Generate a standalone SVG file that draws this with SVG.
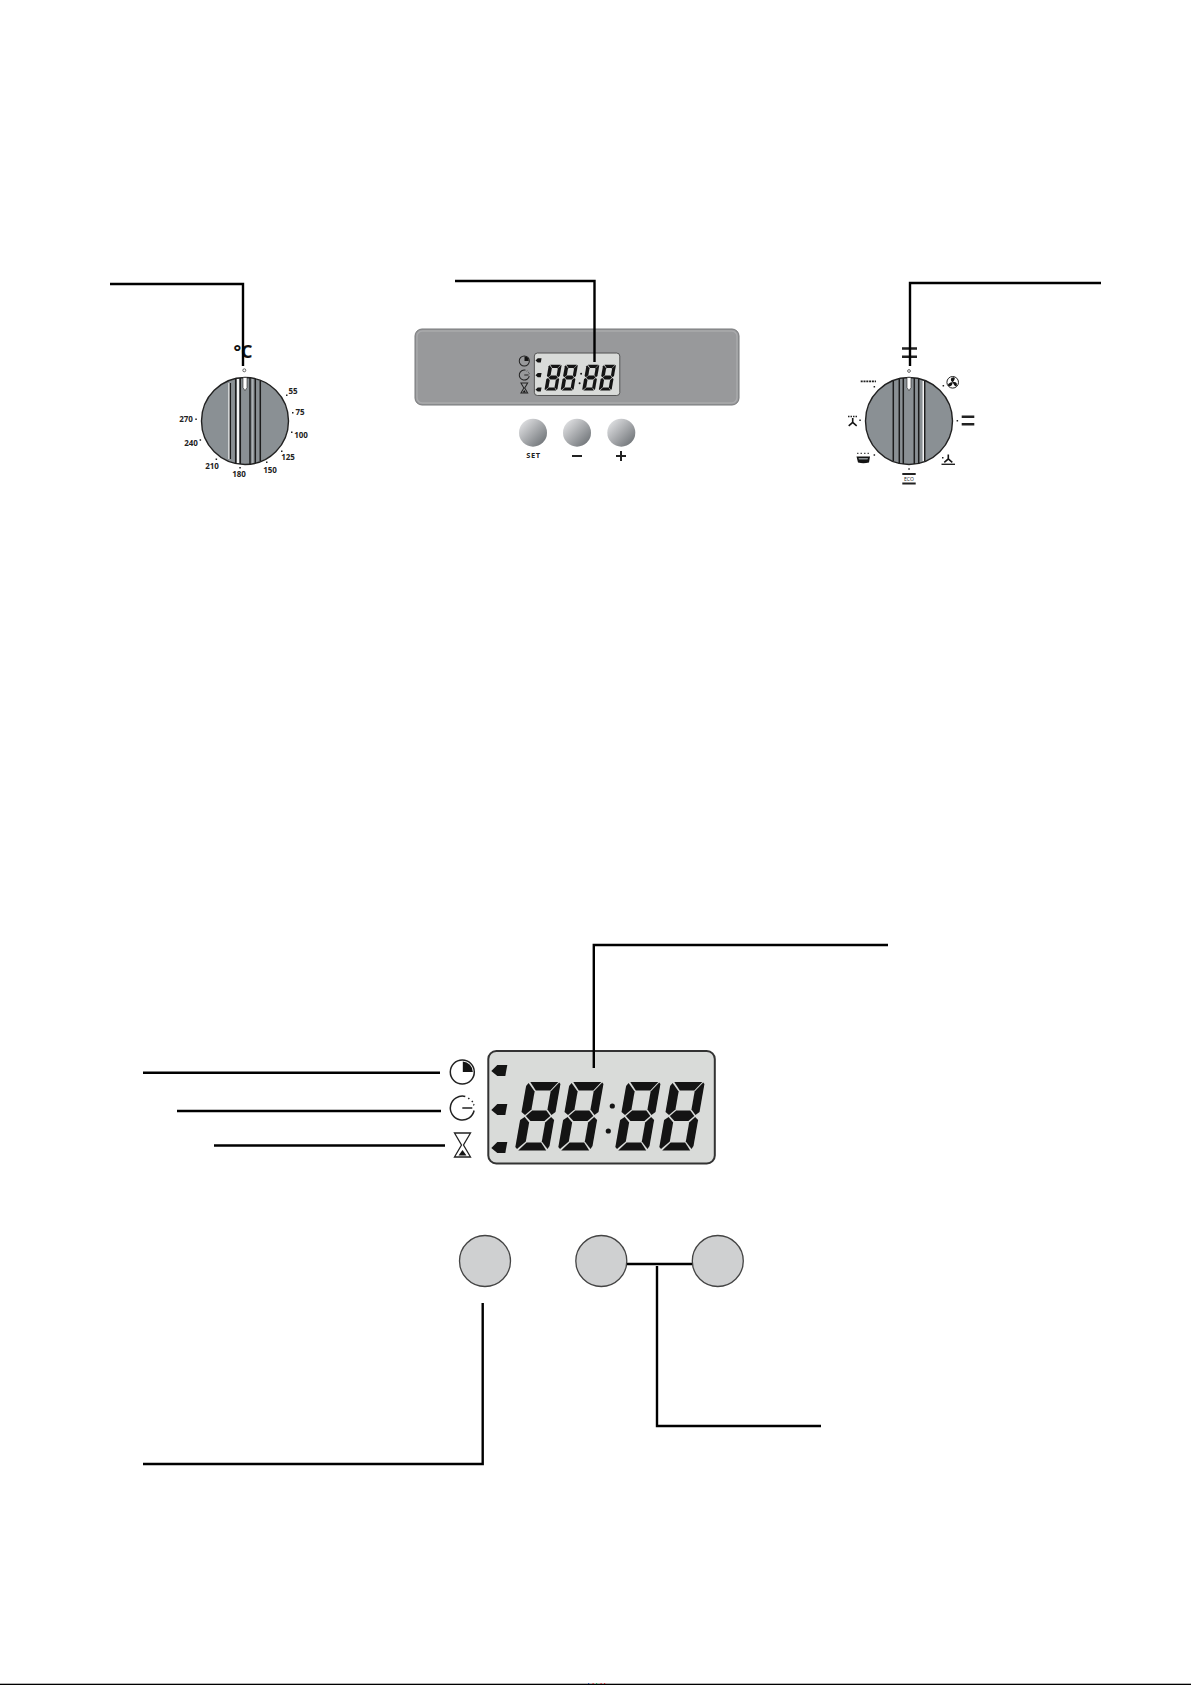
<svg xmlns="http://www.w3.org/2000/svg" width="1191" height="1685" viewBox="0 0 1191 1685">
<style>
.ln{fill:none;stroke:#000;stroke-width:2.4}
.t{font-family:"Open Sans","DejaVu Sans",sans-serif;font-weight:700;font-size:8px;fill:#222;text-anchor:middle}
.dot{fill:#222}
.knob{fill:#8a9094;stroke:#222;stroke-width:1.4}
.w{stroke:#fff;stroke-width:1.8;fill:none}
.d{stroke:#1c1c1c;stroke-width:1.5;fill:none}
.bar{stroke:#222;stroke-width:2.400;fill:none}
.thin{stroke:#222;stroke-width:1;fill:none}
.seg{fill:#141414}
.ic{fill:none;stroke:#222}
.bb{fill:#cfd0d1;stroke:#444;stroke-width:1.3}
</style>
<defs>
<linearGradient id="btn" x1="0.1" y1="0.1" x2="0.9" y2="0.9"><stop offset="0" stop-color="#dfe0e2"/><stop offset="1" stop-color="#707478"/></linearGradient>
<g id="digit" transform="skewX(-10)">
<path class="seg" d="M3 0H31L24.500 8.500H10Z"/>
<path class="seg" d="M1.500 1L9 9.500V27.500L3.500 33L-.500 30V4Z"/>
<path class="seg" d="M33.500 2V30L30 33L25 27.500V9.500L32 .500Z"/>
<path class="seg" d="M4.500 34L10 28.500H24L29 34L24 39H10Z"/>
<path class="seg" d="M3.500 35L9 40.500V59.500L1.500 67L-.500 65V38Z"/>
<path class="seg" d="M30 35L33.500 38V64L32 67L25 59.500V40.500Z"/>
<path class="seg" d="M10 60.500H24.500L31 68.500H3Z"/>
</g>
<g id="lcd">
<rect x="1" y="1" width="226.500" height="112.500" rx="8" fill="#d9dbd9" stroke="#333" stroke-width="2"/>
<path class="seg" d="M4 21L10 15H20L18 26H10Z"/>
<path class="seg" d="M4 60L10 54H20L18 65H10Z"/>
<path class="seg" d="M4 98L10 92H20L18 103H10Z"/>
<use href="#digit" x="40" y="32"/>
<use href="#digit" x="83" y="32"/>
<use href="#digit" x="140" y="32"/>
<use href="#digit" x="184" y="32"/>
<circle cx="125" cy="56" r="2.600" class="seg"/>
<circle cx="121" cy="81" r="2.600" class="seg"/>
</g>
<g id="timer">
<circle class="ic" r="12"/>
<path class="seg" d="M0.500 -10.500A10.500 10.500 0 0 1 10.500 0H0.500Z"/>
</g>
<g id="cook">
<path class="ic" d="M3 -11.600A12 12 0 1 0 11.800 2.500"/>
<path class="ic" d="M0 0H10"/>
<path class="ic" d="M6 -10l1 1M9.500 -7l1 1M11 -3.500l1 .500"/>
</g>
<g id="glass">
<path class="ic" d="M-8 -12H8L1 0L8 12H-8L-1 0Z"/>
<path class="seg" d="M-4 10.500L0 5L4 10.500Z"/>
</g>
<g id="fan"><path class="seg" d="M-.800 -4.500H.800V-.500L4.500 2.800L3.500 4L0 1L-3.500 4L-4.500 2.800L-.800 -.500Z"/></g>
<g id="fanBlades"><path class="seg" d="M0 0C-3 -2 -2 -5 1 -5C3 -5 2 -2 0 0ZM0 0C3 -1 5 1 4 3.500C3 5 1 3 0 0ZM0 0C0 3 -2 5 -4.500 3.500C-5.500 2 -3 0 0 0Z"/></g>
</defs>
<g id="temperature-knob">
<circle class="knob" cx="245" cy="421" r="43.500"/>
<path class="w" d="M229.300 383V459M238 379V463"/>
<path stroke="#b4b8bb" stroke-width="1" fill="none" d="M252.700 379V463"/>
<path class="d" d="M230.300 383V459M235.700 378.500V463.500M240.300 378V464M250 378V464M255.300 378.500V463.500M260.300 381V461"/>
<path d="M243 377.500V387.500L245 390.700L247 387.500V377.500Z" fill="#fff" stroke="#222" stroke-width="0.600"/>
<circle cx="244.300" cy="370.300" r="1.500" fill="#fff" stroke="#444" stroke-width="0.800"/>
<text x="243" y="358" font-family="'Open Sans','DejaVu Sans',sans-serif" font-weight="700" font-size="18" text-anchor="middle" fill="#111">°C</text>
<text class="t" x="293" y="394">55</text>
<text class="t" x="300" y="415">75</text>
<text class="t" x="301" y="438">100</text>
<text class="t" x="288" y="460">125</text>
<text class="t" x="270" y="473">150</text>
<text class="t" x="239" y="477">180</text>
<text class="t" x="212" y="469">210</text>
<text class="t" x="191" y="446">240</text>
<text class="t" x="186" y="422">270</text>
<path class="dot" d="M286 394.500h1.500v1.500h-1.500zM292 412h1.500v1.500h-1.500zM291 431.500h1.500v1.500h-1.500zM281 450.500h1.500v1.500h-1.500zM266 461.500h1.500v1.500h-1.500zM239.300 467h1.500v1.500h-1.500zM215.600 458.600h1.500v1.500h-1.500zM199.600 439.300h1.500v1.500h-1.500zM195.300 418.600h1.500v1.500h-1.500z"/>
</g>
<g id="control-panel">
<rect x="415" y="329" width="324" height="76" rx="7" fill="#98999b" stroke="#77787a" stroke-width="1"/>
<rect x="417" y="331" width="320" height="72" rx="5.500" fill="none" stroke="#a9aaac" stroke-width="1.400"/>
<use href="#lcd" transform="translate(534 352.700) scale(0.377)"/>
<use href="#timer" transform="translate(524.300 361) scale(0.42)" stroke-width="2.400"/>
<use href="#cook" transform="translate(524.300 375) scale(0.42)" stroke-width="2.400"/>
<use href="#glass" transform="translate(524.300 388) scale(0.42)" stroke-width="2.400"/>
</g>
<g id="button-set"><circle cx="533" cy="432.700" r="14" fill="url(#btn)"/><text x="533.500" y="458" class="t" style="letter-spacing:.6px;font-size:7.500px">SET</text></g>
<g id="button-minus"><circle cx="577" cy="432.700" r="14" fill="url(#btn)"/><path d="M572 456H582" stroke="#222" stroke-width="2"/></g>
<g id="button-plus"><circle cx="621.300" cy="432.700" r="14" fill="url(#btn)"/><path d="M616 456H626M621 451V461" stroke="#222" stroke-width="2"/></g>
<g id="function-knob">
<circle class="knob" cx="909" cy="421" r="43.500"/>
<path class="w" d="M923.500 381V461"/>
<path class="d" d="M893.300 381V461M899.300 378.500V463.500M903.300 378V464M914.300 378V464M918.700 378.500V463.500M924.700 381V461"/>
<path d="M907 377.500V387.500L909 390.700L911 387.500V377.500Z" fill="#fff" stroke="#222" stroke-width="0.600"/>
<circle cx="909" cy="371" r="1.400" fill="#fff" stroke="#444" stroke-width="0.800"/>
<path class="bar" d="M902 348.500H917M902 356.700H917"/>
<path class="dot" d="M873.600 386h1.500v1.500h-1.500zM942.600 385h1.500v1.500h-1.500zM956.600 420h1.500v1.500h-1.500zM942 457h1.500v1.500h-1.500zM908.300 468.300h1.500v1.500h-1.500zM873.600 454.300h1.500v1.500h-1.500zM859.300 419.600h1.500v1.500h-1.500z"/>
<path stroke="#222" stroke-width="1.800" stroke-dasharray="2 .8" fill="none" d="M860.700 381.300H876"/>
<circle class="thin" style="stroke-width:1" cx="952.700" cy="382.300" r="5.800"/>
<use href="#fanBlades" transform="translate(952.700 382.300)"/>
<path class="bar" d="M961.700 416.700H974.300M961.700 424.200H974.300"/>
<use href="#fan" transform="translate(948.300 459)"/>
<path class="bar" style="stroke-width:1.400" d="M941.500 464.300H955"/>
<path class="bar" style="stroke-width:2" d="M902.300 474H915.700M902.300 483.500H915.700"/>
<text x="909" y="481" font-family="'Open Sans','DejaVu Sans',sans-serif" font-size="5" text-anchor="middle" fill="#222">ECO</text>
<path stroke="#222" stroke-width="1" stroke-dasharray="1.500 2" fill="none" d="M857 453.300H870"/>
<path class="seg" d="M856.500 456.500H870L869 462.500Q863.300 464 858 462.500Z"/>
<path fill="#8a9094" d="M858.500 458H868L867.500 459.500H859Z"/>
<path stroke="#222" stroke-width="1.500" stroke-dasharray="1.500 1" fill="none" d="M848 416.500H857"/>
<use href="#fan" transform="translate(852.700 422.500)"/>
</g>
<g id="lcd-large"><use href="#lcd" transform="translate(487.300 1050)"/></g>
<g id="icon-timer"><use href="#timer" transform="translate(462.300 1072)" stroke-width="1.500"/></g>
<g id="icon-cook"><use href="#cook" transform="translate(462.300 1108)" stroke-width="1.500"/></g>
<g id="icon-glass"><use href="#glass" transform="translate(462.500 1145)" stroke-width="1.300"/></g>
<g id="key-set"><circle class="bb" cx="485" cy="1261" r="25.500"/></g>
<g id="key-minus"><circle class="bb" cx="601.300" cy="1261" r="25.500"/></g>
<g id="key-plus"><circle class="bb" cx="717.800" cy="1261" r="25.500"/></g>
<g id="connectors">
<path class="ln" d="M110 284H243V366"/>
<path class="ln" d="M455 281H594.500V362"/>
<path class="ln" d="M1101 283H910V366"/>
<path class="ln" d="M888 945H593.800V1068"/>
<path class="ln" d="M143 1072.700H440"/>
<path class="ln" d="M177 1111H441"/>
<path class="ln" d="M214 1145.500H445"/>
<path class="ln" d="M143 1464H482.700V1303"/>
<path class="ln" d="M627 1264H692"/>
<path class="ln" d="M657 1266V1426H821"/>
</g>
<rect x="0" y="1683.700" width="1191" height="1.300" fill="#000"/>
<path fill="#c33" d="M592.500 1683h1.200v1h-1.200zM600.500 1683h1.200v1h-1.200zM604 1683h1.200v1h-1.200z"/>
<path fill="#35a" d="M588 1683h1.200v1h-1.200z"/>
<path fill="#3a5" d="M596 1683h1.200v1h-1.200z"/>
</svg>
